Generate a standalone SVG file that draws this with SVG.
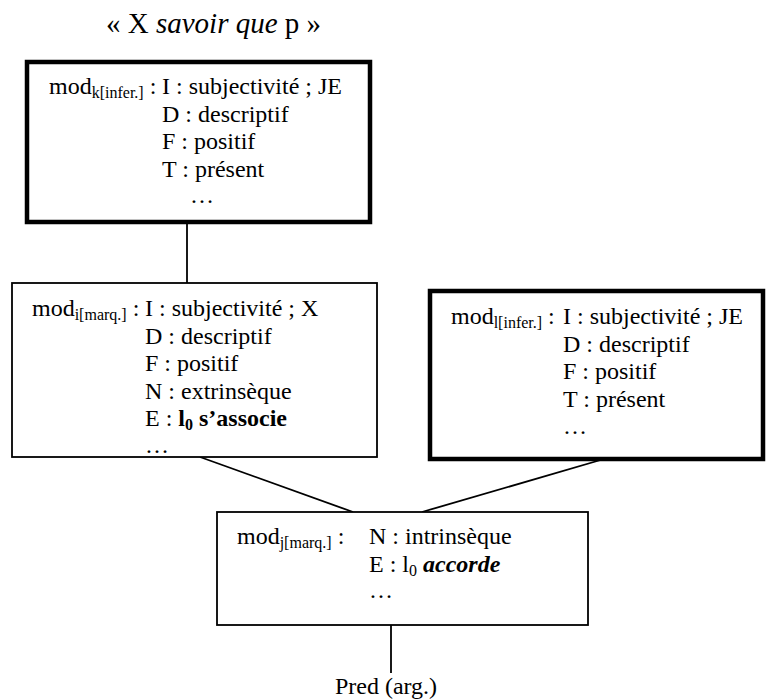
<svg xmlns="http://www.w3.org/2000/svg" width="766" height="700" viewBox="0 0 766 700">
<style>
text{font-family:"Liberation Serif","Times New Roman",serif;font-size:24px;fill:#000}
.sub{font-size:16px}
.b{font-weight:bold}
.bi{font-weight:bold;font-style:italic}
.it{font-style:italic}
.thick{fill:#fff;stroke:#000;stroke-width:4.5}
.thin{fill:#fff;stroke:#000;stroke-width:1.8}
.conn{stroke:#000;stroke-width:1.8;fill:none}
</style>
<rect width="766" height="700" fill="#fff"/>
<text id="title" x="106" y="33" style="font-size:29px">« X <tspan class="it">savoir que</tspan> p »</text>
<g id="connectors">
<line class="conn" x1="187" y1="224" x2="187" y2="283"/>
<line class="conn" x1="200" y1="457" x2="353" y2="512"/>
<line class="conn" x1="604" y1="459" x2="422" y2="512"/>
<line class="conn" x1="391" y1="625" x2="391" y2="673"/>
</g>
<g id="mod_k">
<rect class="thick" x="27" y="62" width="343" height="160"/>
<text x="49" y="94">mod<tspan class="sub" dy="4">k[infer.]</tspan><tspan dy="-4"> :</tspan></text>
<text x="162" y="94">I : subjectivité ; JE</text>
<text x="162" y="121.5">D : descriptif</text>
<text x="162" y="149">F : positif</text>
<text x="162" y="176.5">T : présent</text>
<text x="190" y="203">…</text>
</g>
<g id="mod_i">
<rect class="thin" x="12" y="283" width="365" height="174"/>
<text x="32" y="316">mod<tspan class="sub" dy="4">i[marq.]</tspan><tspan dy="-4"> :</tspan></text>
<text x="145" y="316">I : subjectivité ; X</text>
<text x="145" y="343.5">D : descriptif</text>
<text x="145" y="371">F : positif</text>
<text x="145" y="398.5">N : extrinsèque</text>
<text x="145" y="426">E : <tspan class="b">l</tspan><tspan class="b sub" dy="4">0</tspan><tspan class="b" dy="-4"> s’associe</tspan></text>
<text x="145" y="453">…</text>
</g>
<g id="mod_l">
<rect class="thick" x="430" y="291" width="333" height="168"/>
<text x="451" y="324">mod<tspan class="sub" dy="4">l[infer.]</tspan><tspan dy="-4"> :</tspan></text>
<text x="563" y="324">I : subjectivité ; JE</text>
<text x="563" y="351.5">D : descriptif</text>
<text x="563" y="379">F : positif</text>
<text x="563" y="406.5">T : présent</text>
<text x="563" y="434">…</text>
</g>
<g id="mod_j">
<rect class="thin" x="217" y="512" width="371" height="113"/>
<text x="237" y="544">mod<tspan class="sub" dy="4">j[marq.]</tspan><tspan dy="-4"> :</tspan></text>
<text x="369" y="544">N : intrinsèque</text>
<text x="369" y="571.5">E : l<tspan class="sub" dy="4">0</tspan><tspan dy="-4"> </tspan><tspan class="bi">accorde</tspan></text>
<text x="369" y="598">…</text>
</g>
<g id="pred">
<text x="386" y="694" text-anchor="middle">Pred (arg.)</text>
</g>
</svg>
